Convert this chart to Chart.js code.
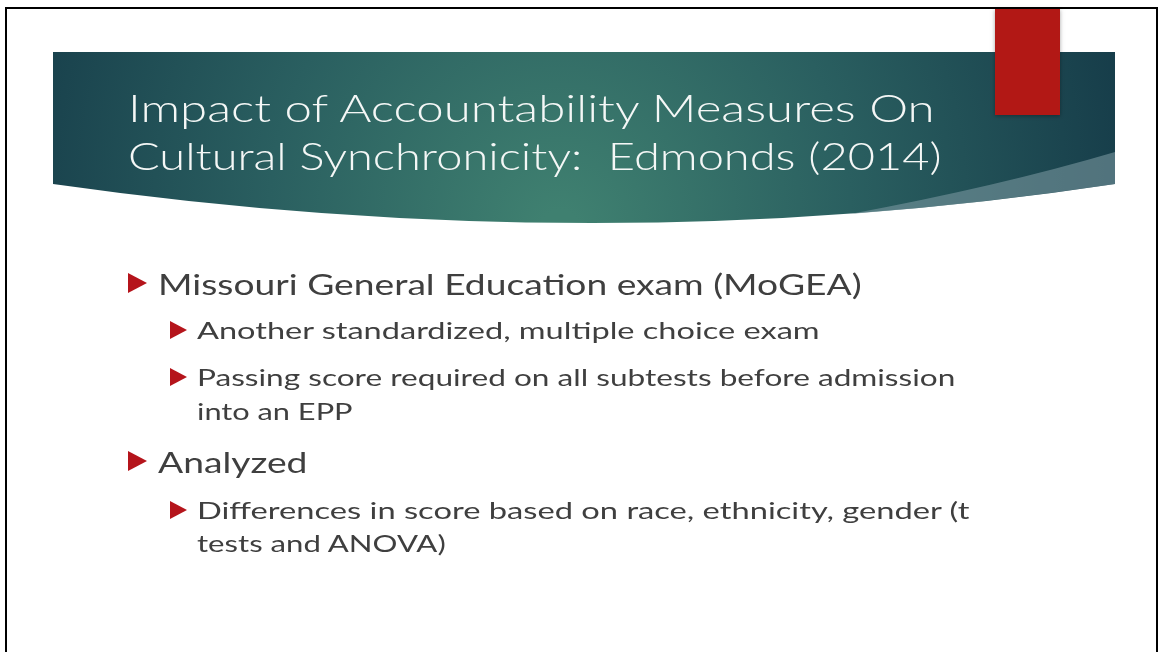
<!DOCTYPE html>
<html><head><meta charset="utf-8">
<script src="https://cdn.jsdelivr.net/npm/chart.js@4.4.0/dist/chart.umd.min.js"></script>
<style>
html,body{margin:0;padding:0;background:#fff;width:1160px;height:652px;overflow:hidden;}
#wrap{position:relative;width:1160px;height:652px;}
#bg{position:absolute;left:0;top:0;}
.frame{position:absolute;background:#000;}
.t{position:absolute;white-space:pre;transform-origin:0 50%;font-family:Lato,"Open Sans",sans-serif;line-height:1;}
.title{color:#f4f7f6;font-size:38px;font-weight:300;}
.l1{color:#3f3f3f;font-size:29px;}
.l2{color:#3f3f3f;font-size:24px;}
.tri{position:absolute;width:0;height:0;border-style:solid;border-color:transparent transparent transparent #b5141b;}
</style></head>
<body><div id="wrap">
<canvas id="bg" width="1160" height="652"></canvas>
<div class="frame" style="left:5px;top:7px;width:2px;height:645px"></div>
<div class="frame" style="left:5px;top:7px;width:1153px;height:2px"></div>
<div class="frame" style="left:1156px;top:7px;width:2px;height:645px"></div>
</div>
<script>
// Slide content
const titleLines = ["Impact of Accountability Measures On", "Cultural Synchronicity:  Edmonds (2014)"];
const titleCenters = [107, 155];
const titleTargets = [807, 814];
const bulletTexts = [
  "Missouri General Education exam (MoGEA)",
  "Another standardized, multiple choice exam",
  "Passing score required on all subtests before admission",
  "into an EPP",
  "Analyzed",
  "Differences in score based on race, ethnicity, gender (t",
  "tests and ANOVA)"
];
const bulletLevels = [1, 2, 2, 0, 1, 2, 0]; // 0 = continuation line (level 2 indent, no marker)
const bulletCenters = [283, 330, 377, 411, 461, 510, 543];
const bulletTargets = [704, 622, 758, 155, 149, 773, 249];

const bannerPlugin = {
  id: 'banner',
  beforeDraw(chart) {
    const c = chart.ctx;
    c.save();
    c.beginPath();
    c.moveTo(53, 52); c.lineTo(1115, 52); c.lineTo(1115, 184);
    c.quadraticCurveTo(600, 262, 53, 184);
    c.closePath();
    const g = c.createRadialGradient(560, 230, 20, 560, 180, 620);
    g.addColorStop(0, '#3f8070');
    g.addColorStop(0.45, '#2a5f60');
    g.addColorStop(1, '#133746');
    c.fillStyle = g; c.fill();
    c.beginPath();
    c.moveTo(1115, 152); c.lineTo(1115, 184);
    c.quadraticCurveTo(980, 204, 850, 214);
    c.quadraticCurveTo(1000, 186, 1115, 152);
    c.closePath();
    c.fillStyle = 'rgba(120,150,158,0.6)'; c.fill();
    c.shadowColor = 'rgba(0,0,0,0.35)'; c.shadowBlur = 4; c.shadowOffsetY = 1;
    c.fillStyle = '#b21815';
    c.fillRect(995, 9, 65, 106);
    c.restore();
  }
};

new Chart(document.getElementById('bg'), {
  type: 'scatter',
  data: { datasets: [{ data: [] }] },
  options: {
    responsive: false, animation: false,
    plugins: { legend: { display: false }, tooltip: { enabled: false } },
    scales: { x: { display: false }, y: { display: false } }
  },
  plugins: [bannerPlugin]
});

const wrap = document.getElementById('wrap');
function addText(txt, cls, left, centerY, target) {
  const d = document.createElement('div');
  d.className = 't ' + cls;
  d.textContent = txt;
  wrap.appendChild(d);
  const h = d.offsetHeight;
  d.style.left = left + 'px';
  d.style.top = (centerY - h / 2) + 'px';
  const w = d.offsetWidth;
  d.style.transform = 'scaleX(' + (target / w) + ')';
}
titleLines.forEach((t, i) => addText(t, 'title', 128, titleCenters[i], titleTargets[i]));

function addTri(x, y, w, h) {
  const d = document.createElement('div');
  d.className = 'tri';
  d.style.left = x + 'px'; d.style.top = (y - h / 2) + 'px';
  d.style.borderWidth = (h / 2) + 'px 0 ' + (h / 2) + 'px ' + w + 'px';
  wrap.appendChild(d);
}
bulletTexts.forEach((t, i) => {
  const lv = bulletLevels[i];
  if (lv === 1) {
    addTri(128, bulletCenters[i], 19, 21);
    addText(t, 'l1', 158, bulletCenters[i], bulletTargets[i]);
  } else {
    if (lv === 2) addTri(170, bulletCenters[i], 17, 19);
    addText(t, 'l2', 197, bulletCenters[i], bulletTargets[i]);
  }
});
</script>
</body></html>
